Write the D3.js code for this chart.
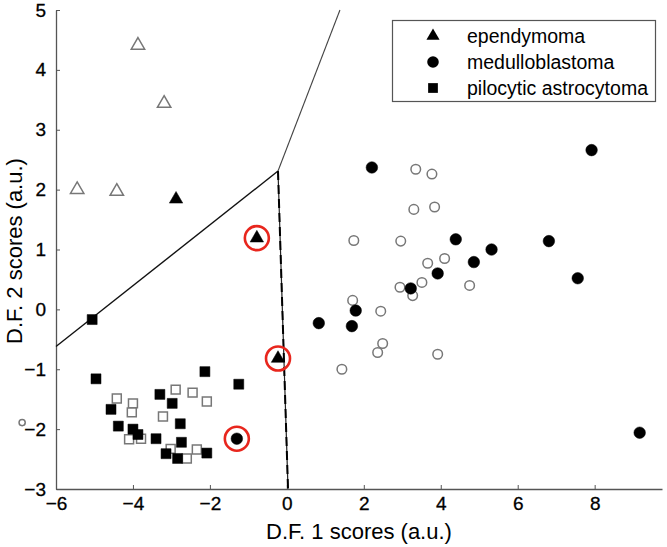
<!DOCTYPE html>
<html><head><meta charset="utf-8">
<script src="https://cdn.jsdelivr.net/npm/d3@7"></script>
<style>body{margin:0;background:#fff}svg{display:block;font-family:"Liberation Sans",Arial,sans-serif}</style>
</head><body><svg id="c" width="667" height="547"></svg>
<script>
// ---- data ----
const xTicks = [-6,-4,-2,0,2,4,6,8];
const yTicks = [-3,-2,-1,0,1,2,3,4,5];
const legendLabels = ["ependymoma","medulloblastoma","pilocytic astrocytoma"];
const ependOpen = [[-3.87,4.41],[-3.19,3.44],[-5.45,2.0],[-4.42,1.97]];
const ependFilled = [[-2.88,1.84],[-0.78,1.19],[-0.23,-0.82]];
const meduFilled = [[2.21,2.37],[7.92,2.66],[4.39,1.17],[5.32,1.00],[4.86,0.79],[3.92,0.60],[3.22,0.35],[6.81,1.14],[7.56,0.52],[0.83,-0.23],[1.79,-0.02],[1.69,-0.28],[9.17,-2.06],[-1.30,-2.16]];
const meduOpen = [[3.35,2.34],[3.77,2.26],[3.30,1.67],[3.84,1.71],[2.96,1.14],[1.74,1.15],[3.66,0.77],[4.10,0.85],[2.94,0.37],[3.51,0.45],[3.27,0.23],[4.75,0.40],[1.71,0.15],[2.44,-0.03],[2.49,-0.57],[2.36,-0.72],[3.92,-0.75],[1.43,-1.00]];
const strayOpen = [[-6.88,-1.89]];
const piloFilled = [[-5.06,-0.17],[-4.96,-1.16],[-4.57,-1.67],[-4.38,-1.95],[-4.0,-2.0],[-3.87,-2.09],[-3.40,-2.16],[-3.30,-1.42],[-2.98,-1.57],[-2.77,-1.91],[-2.74,-2.22],[-3.14,-2.41],[-2.84,-2.49],[-2.08,-2.40],[-2.13,-1.04],[-1.25,-1.25]];
const piloOpen = [[-4.42,-1.49],[-4.0,-1.57],[-4.03,-1.72],[-4.10,-2.17],[-3.79,-2.16],[-3.22,-1.79],[-2.89,-1.34],[-2.45,-1.39],[-2.08,-1.54],[-3.02,-2.33],[-2.34,-2.34],[-2.60,-2.49]];
const highlighted = [[-0.78,1.19],[-0.23,-0.82],[-1.30,-2.16]];
const boundaryA = [[-6,-0.62],[-0.23,2.31]];
const boundaryB = [[-0.23,2.31],[0.03,-3]];
const boundaryC = [[-0.23,2.31],[1.38,5.0]];

// ---- layout ----
const svg = d3.select("#c");
const x = d3.scaleLinear().domain([-6, 9.75]).range([56, 662]);
const y = d3.scaleLinear().domain([-3, 5]).range([489, 10]);
const axisColor = "#555";

// axes
const gx = svg.append("g").attr("transform", `translate(0,${y(-3)})`)
  .call(d3.axisBottom(x).tickValues(xTicks).tickSize(-4).tickPadding(8).tickSizeOuter(0));
const gy = svg.append("g").attr("transform", `translate(${x(-6)},0)`)
  .call(d3.axisLeft(y).tickValues(yTicks).tickSize(-4).tickPadding(10).tickSizeOuter(0));
[gx, gy].forEach(g => {
  g.select(".domain").attr("stroke", axisColor).attr("stroke-width", 1.3);
  g.selectAll(".tick line").attr("stroke", axisColor);
  g.selectAll(".tick text").attr("fill", "#000").style("font-size", "19px")
    .style("font-family", "Liberation Sans, Arial, sans-serif")
    .attr("stroke", "#000").attr("stroke-width", 0.3);
});

svg.append("text").attr("x", 359).attr("y", 539).attr("text-anchor", "middle")
  .style("font-size", "22px").text("D.F. 1 scores (a.u.)");
svg.append("text").attr("transform", "translate(22,251) rotate(-90)").attr("text-anchor", "middle")
  .style("font-size", "22px").text("D.F. 2 scores (a.u.)");

// boundaries
const line = d3.line().x(d => x(d[0])).y(d => y(d[1]));
svg.append("path").datum(boundaryA).attr("d", line).attr("fill", "none").attr("stroke", "#111").attr("stroke-width", 1.4);
svg.append("path").datum(boundaryB).attr("d", line).attr("fill", "none").attr("stroke", "#222").attr("stroke-width", 1.2);
svg.append("path").datum(boundaryB).attr("d", line).attr("fill", "none").attr("stroke", "#000").attr("stroke-width", 2).attr("stroke-dasharray", "9,5");
svg.append("path").datum(boundaryC).attr("d", line).attr("fill", "none").attr("stroke", "#444").attr("stroke-width", 1.1);

// markers
const pts = svg.append("g");
function drawSym(data, type, size, filled) {
  pts.selectAll(null).data(data).enter().append("path")
    .attr("transform", d => `translate(${x(d[0])},${y(d[1])})`)
    .attr("d", d3.symbol().type(type).size(size)())
    .attr("fill", filled ? "#000" : "#fff")
    .attr("stroke", filled ? "#000" : "#777")
    .attr("stroke-width", filled ? 0.5 : 1.5);
}
drawSym(ependOpen, d3.symbolTriangle, 78, false);
drawSym(meduOpen, d3.symbolCircle, 72, false);
drawSym(strayOpen, d3.symbolCircle, 30, false);
drawSym(piloOpen, d3.symbolSquare, 80, false);
drawSym(piloFilled, d3.symbolSquare, 100, true);
drawSym(meduFilled, d3.symbolCircle, 105, true);
drawSym(ependFilled, d3.symbolTriangle, 78, true);

// highlight rings
svg.append("g").selectAll("circle").data(highlighted).enter().append("circle")
  .attr("cx", d => x(d[0])).attr("cy", d => y(d[1])).attr("r", 12)
  .attr("fill", "none").attr("stroke", "#e8261d").attr("stroke-width", 2.6);

// legend
const lg = svg.append("g");
lg.append("rect").attr("x", 392.5).attr("y", 20.5).attr("width", 263).attr("height", 81)
  .attr("fill", "#fff").attr("stroke", "#555").attr("stroke-width", 1.2);
const legendTypes = [d3.symbolTriangle, d3.symbolCircle, d3.symbolSquare];
const legendSizes = [75, 105, 95];
legendLabels.forEach((lab, i) => {
  const cy = 36 + i * 26;
  lg.append("path").attr("transform", `translate(433,${cy})`)
    .attr("d", d3.symbol().type(legendTypes[i]).size(legendSizes[i])()).attr("fill", "#000");
  lg.append("text").attr("x", 467).attr("y", cy).attr("dy", "0.35em")
    .style("font-size", "19.5px").text(lab);
});
</script></body></html>
